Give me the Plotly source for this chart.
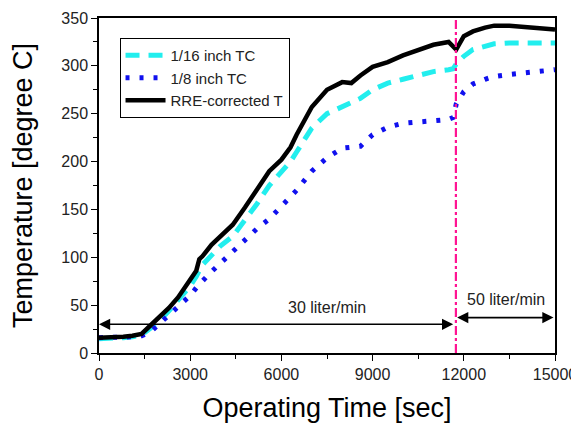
import plotly.graph_objects as go

# operating time [sec]
time_s = [0, 400, 800, 1100, 1400, 1700, 2000, 2300, 2600, 3000, 3200, 3300, 3400,
          3700, 4000, 4400, 4800, 5200, 5600, 6000, 6300, 6500, 7000, 7500, 8000,
          8300, 8600, 9000, 9500, 10000, 10500, 11000, 11500, 11650, 11750, 12000,
          12300, 12700, 13000, 13500, 14000, 14500, 15000]

tc_16 = [15, 15, 16, 17, 19, 26, 34, 44, 55, 70, 80, 86, 92, 102, 112, 122, 138,
         156, 175, 190, 200, 210, 235, 250, 257, 261, 266, 275, 282, 286, 290, 294,
         296, 297, 302, 310, 317, 321, 323, 324, 324, 324, 324]

tc_8 = [16, 16, 16, 17, 18, 22, 31, 40, 48, 60, 68, 71, 75, 85, 94, 105, 117, 130,
        140, 153, 163, 170, 190, 204, 214, 215, 216, 228, 236, 240, 241, 242, 244,
        246, 260, 273, 281, 286, 289, 291, 293, 295, 296]

rre_t = [16, 16, 17, 18, 20, 29, 38, 47, 58, 76, 86, 98, 101, 113, 122, 134, 152,
         170, 190, 202, 215, 228, 257, 275, 283, 282, 290, 299, 304, 311, 317, 322,
         325, 321, 317, 331, 336, 340, 342, 342, 341, 340, 338]

x_ticks = [0, 3000, 6000, 9000, 12000, 15000]
x_ticktext = ["0", "3000", "6000", "9000", "12000", "15000"]

switch_t = 11740
flow_labels = ["30 liter/min", "50 liter/min"]

fig = go.Figure()
fig.add_trace(go.Scatter(x=time_s, y=tc_16, mode="lines", name="1/16 inch TC",
                         line=dict(color="#22eeee", width=5, dash="14px,9px")))
fig.add_trace(go.Scatter(x=time_s, y=tc_8, mode="lines", name="1/8 inch TC",
                         line=dict(color="#1010ee", width=5, dash="4px,10px")))
fig.add_trace(go.Scatter(x=time_s, y=rre_t, mode="lines", name="RRE-corrected T",
                         line=dict(color="black", width=4.5)))

# flow change marker
fig.add_shape(type="line", x0=switch_t, x1=switch_t, y0=0, y1=350, xref="x", yref="y",
              line=dict(color="#ff1493", width=2.2, dash="dashdot"))

# flow-rate arrows
fig.add_annotation(x=0, y=30, ax=switch_t - 40, ay=30, xref="x", yref="y",
                   axref="x", ayref="y", text="", showarrow=True,
                   arrowhead=2, arrowside="end+start", arrowsize=1.4,
                   arrowwidth=1.6, arrowcolor="black")
fig.add_annotation(x=switch_t + 40, y=37, ax=15000, ay=37, xref="x", yref="y",
                   axref="x", ayref="y", text="", showarrow=True,
                   arrowhead=2, arrowside="end+start", arrowsize=1.4,
                   arrowwidth=1.6, arrowcolor="black")
fig.add_annotation(x=7500, y=48, text=flow_labels[0], showarrow=False,
                   font=dict(size=16, color="#222"))
fig.add_annotation(x=13400, y=56, text=flow_labels[1], showarrow=False,
                   font=dict(size=16, color="#222"))

# page body has an 8px margin, so the figure is 8px smaller than the window
fig.update_layout(
    width=571, height=417,
    margin=dict(l=91, r=24, t=10, b=72),
    paper_bgcolor="white", plot_bgcolor="white",
    font=dict(family="Arial, Liberation Sans, sans-serif", color="#222"),
    showlegend=True,
    legend=dict(x=0.045, y=0.94, xanchor="left", yanchor="top",
                bordercolor="black", borderwidth=1, bgcolor="white",
                font=dict(size=15, color="#222"), tracegroupgap=0,
                itemwidth=40),
)
fig.update_xaxes(range=[0, 15000], tickvals=x_ticks, ticktext=x_ticktext,
                 ticks="outside", ticklen=6, tickwidth=1, tickcolor="black",
                 minor=dict(dtick=1500, tick0=0, ticks="outside", ticklen=4, tickcolor="black"),
                 showline=True, linecolor="black", linewidth=1.5, mirror=True,
                 showgrid=False, zeroline=False, tickfont=dict(size=16),
                 automargin=False,
                 title=dict(text="Operating Time [sec]", font=dict(size=27, color="black"),
                            standoff=16))
fig.update_yaxes(range=[0, 350], dtick=50, ticks="outside", ticklen=6, tickwidth=1,
                 tickcolor="black",
                 minor=dict(dtick=25, tick0=0, ticks="outside", ticklen=4, tickcolor="black"),
                 showline=True, linecolor="black", linewidth=1.5, mirror=True,
                 showgrid=False, zeroline=False, tickfont=dict(size=16),
                 automargin=False,
                 title=dict(text="Temperature [degree C]", font=dict(size=27, color="black"),
                            standoff=22))

fig.write_html("out.html")
